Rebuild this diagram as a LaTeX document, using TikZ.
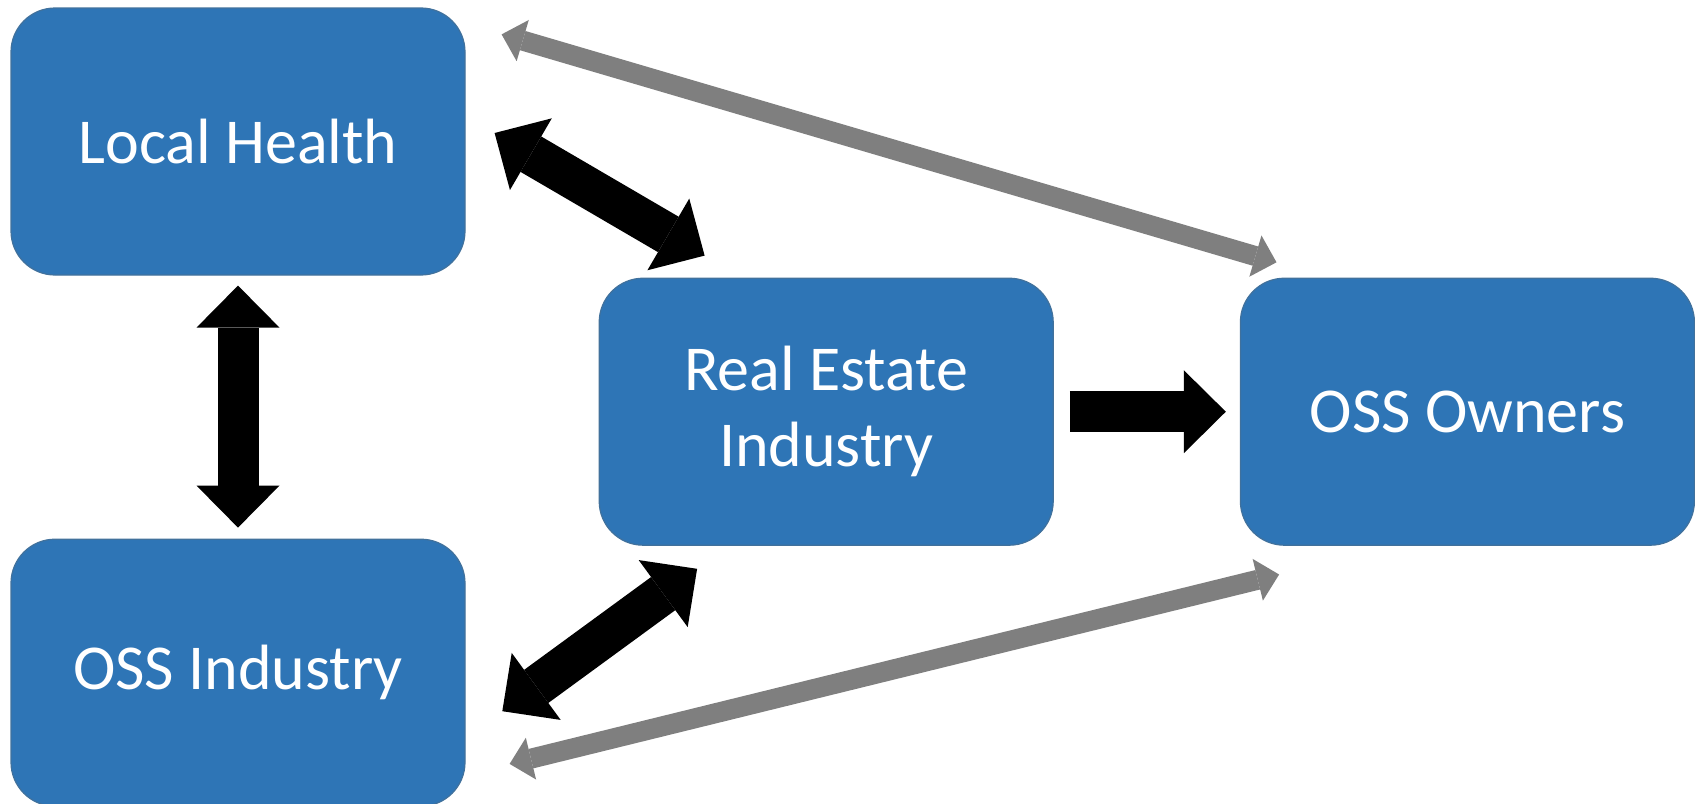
\documentclass[tikz,border=0pt]{standalone}
\usepackage{fontspec}
\setmainfont{Carlito}
\usepackage{tikz}
\usetikzlibrary{positioning,arrows.meta}
\definecolor{boxblue}{HTML}{2E75B6}
\definecolor{boxedge}{HTML}{41719C}
\definecolor{linkgray}{HTML}{7F7F7F}
\tikzset{
  party/.style={rectangle, rounded corners=22pt, fill=boxblue, draw=boxedge, line width=0.6pt,
    minimum width=227pt, minimum height=133.5pt, inner sep=0pt, text=white, align=center,
    font=\fontsize{32}{38}\selectfont},
  bigtip/.tip={Triangle[width=41.5pt,length=21pt,line width=0pt]},
  graytip/.tip={Triangle[width=21.5pt,length=11pt,line width=0pt]},
  bigboth/.style={draw=black, line width=20.5pt, bigtip-bigtip},
  bigone/.style={draw=black, line width=20.5pt, -bigtip},
  grayboth/.style={draw=linkgray, line width=10pt, graytip-graytip}
}
\begin{document}
\begin{tikzpicture}[x=0.5pt, y=-0.5pt]
\useasboundingbox (0,0) rectangle (1695,803);

\node[party] (LH) at (238,141.5) {Local Health};
\node[party, below = 131.5pt of LH] (OI) {OSS Industry};
\node[party, below right = 1pt and 66.5pt of LH] (RE) {Real Estate\\Industry};
\node[party, right = 93pt of RE] (OO) {OSS Owners};

\path (LH) edge[bigboth, shorten <=5pt, shorten >=5.5pt] (OI);
\path (RE) edge[bigone, shorten <=8pt, shorten >=7pt] (OO);
\path ([shift={(29,-8.5)}]LH.east) edge[bigboth] ([shift={(106,-22)}]RE.north west);
\path ([shift={(36.7,38.5)}]OI.east) edge[bigboth] ([shift={(98.5,23)}]RE.south west);

\path ([shift={(36,27)}]LH.north east) edge[grayboth] ([shift={(36.7,-15.3)}]OO.north west);
\path ([shift={(44,91.2)}]OI.east) edge[grayboth] ([shift={(39.3,28.7)}]OO.south west);
\end{tikzpicture}
\end{document}
